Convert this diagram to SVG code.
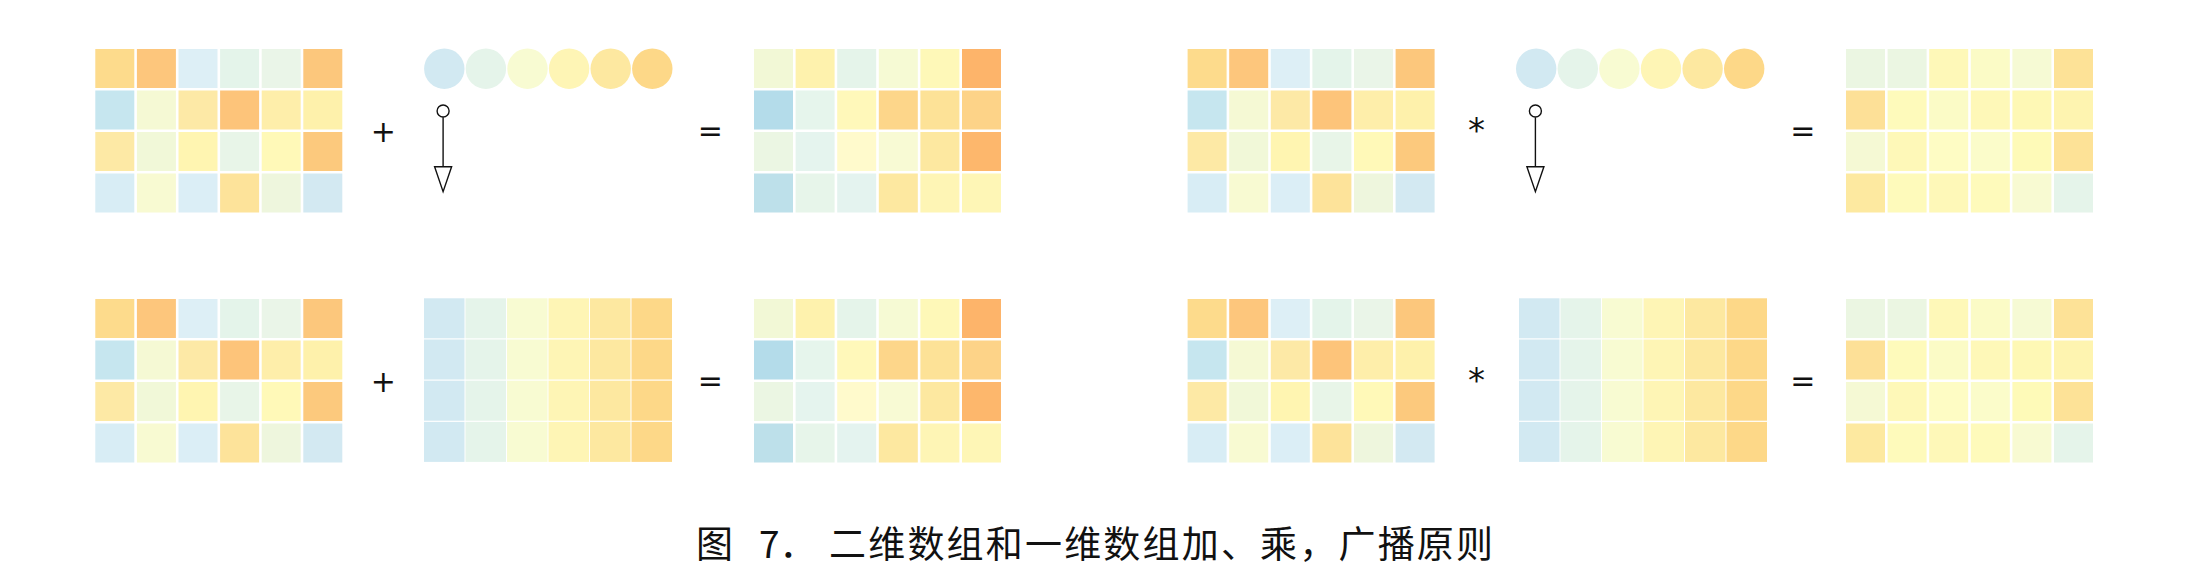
<svg xmlns="http://www.w3.org/2000/svg" xmlns:xlink="http://www.w3.org/1999/xlink" width="2186" height="583" viewBox="0 0 2186 583">
<style>
.op{font-family:"DejaVu Sans",sans-serif;font-size:30px;fill:#111;text-anchor:middle;dominant-baseline:central}
.cap{font-family:"Noto Sans CJK SC","Noto Sans CJK JP",sans-serif;font-size:37px;fill:#111}
.c rect{width:39px;height:39px}
.b rect{width:40.5px;height:40px}
.link{stroke:#111;stroke-width:1.4;fill:none}
</style>
<defs>
<marker id="tail" markerUnits="userSpaceOnUse" viewBox="-14 -8 16 16" refX="0" refY="0" markerWidth="16" markerHeight="16" orient="auto">
<circle cx="-6.3" cy="0" r="6" fill="#fff" stroke="#111" stroke-width="1.4"/>
</marker>
<marker id="head" markerUnits="userSpaceOnUse" viewBox="-1 -10 28 20" refX="0" refY="0" markerWidth="28" markerHeight="20" orient="auto">
<path d="M0,-8.5 L25,0 L0,8.5 Z" fill="#fff" stroke="#111" stroke-width="1.4"/>
</marker>
<g id="matA" class="c">
<rect x="0" y="0" fill="#fddb8c"/><rect x="41.6" y="0" fill="#fdc67c"/><rect x="83.2" y="0" fill="#ddeff6"/><rect x="124.8" y="0" fill="#e4f4ea"/><rect x="166.4" y="0" fill="#eaf5e8"/><rect x="208" y="0" fill="#fcc77c"/>
<rect x="0" y="41.5" fill="#c6e6ef"/><rect x="41.6" y="41.5" fill="#f5f9d4"/><rect x="83.2" y="41.5" fill="#fde9a6"/><rect x="124.8" y="41.5" fill="#fdc47a"/><rect x="166.4" y="41.5" fill="#feeeaa"/><rect x="208" y="41.5" fill="#fef1ab"/>
<rect x="0" y="83" fill="#fde9a5"/><rect x="41.6" y="83" fill="#f1f8d8"/><rect x="83.2" y="83" fill="#fff5b1"/><rect x="124.8" y="83" fill="#e8f5e8"/><rect x="166.4" y="83" fill="#fff9b8"/><rect x="208" y="83" fill="#fcc97d"/>
<rect x="0" y="124.5" fill="#d8edf5"/><rect x="41.6" y="124.5" fill="#f8fad2"/><rect x="83.2" y="124.5" fill="#dbeef6"/><rect x="124.8" y="124.5" fill="#fde39a"/><rect x="166.4" y="124.5" fill="#eef6dd"/><rect x="208" y="124.5" fill="#d3e9f2"/>
</g>
<g id="matSum" class="c">
<rect x="0" y="0" fill="#f2f8d6"/><rect x="41.6" y="0" fill="#fef2ad"/><rect x="83.2" y="0" fill="#e5f4ea"/><rect x="124.8" y="0" fill="#f6fad4"/><rect x="166.4" y="0" fill="#fef8b8"/><rect x="208" y="0" fill="#fdb46a"/>
<rect x="0" y="41.5" fill="#b4dcea"/><rect x="41.6" y="41.5" fill="#e6f5ec"/><rect x="83.2" y="41.5" fill="#fff8ba"/><rect x="124.8" y="41.5" fill="#fdd68a"/><rect x="166.4" y="41.5" fill="#fde297"/><rect x="208" y="41.5" fill="#fdd388"/>
<rect x="0" y="83" fill="#ebf6e3"/><rect x="41.6" y="83" fill="#e5f4ee"/><rect x="83.2" y="83" fill="#fffacc"/><rect x="124.8" y="83" fill="#f8fad4"/><rect x="166.4" y="83" fill="#fde8a0"/><rect x="208" y="83" fill="#fdb76c"/>
<rect x="0" y="124.5" fill="#bde0ea"/><rect x="41.6" y="124.5" fill="#e7f5ea"/><rect x="83.2" y="124.5" fill="#e4f3ef"/><rect x="124.8" y="124.5" fill="#fde8a0"/><rect x="166.4" y="124.5" fill="#fef5b5"/><rect x="208" y="124.5" fill="#fef6b6"/>
</g>
<g id="matProd" class="c">
<rect x="0" y="0" fill="#ebf6e2"/><rect x="41.6" y="0" fill="#ebf6e2"/><rect x="83.2" y="0" fill="#fef8b8"/><rect x="124.8" y="0" fill="#fbfbc6"/><rect x="166.4" y="0" fill="#f6fad4"/><rect x="208" y="0" fill="#fde297"/>
<rect x="0" y="41.5" fill="#fde097"/><rect x="41.6" y="41.5" fill="#fefabb"/><rect x="83.2" y="41.5" fill="#fbfbc6"/><rect x="124.8" y="41.5" fill="#fef8b8"/><rect x="166.4" y="41.5" fill="#fef8b5"/><rect x="208" y="41.5" fill="#fef4b0"/>
<rect x="0" y="83" fill="#f5f9d4"/><rect x="41.6" y="83" fill="#fef8b8"/><rect x="83.2" y="83" fill="#fefcc4"/><rect x="124.8" y="83" fill="#fbfcca"/><rect x="166.4" y="83" fill="#fefab8"/><rect x="208" y="83" fill="#fde297"/>
<rect x="0" y="124.5" fill="#fde9a0"/><rect x="41.6" y="124.5" fill="#fefabb"/><rect x="83.2" y="124.5" fill="#fef8b8"/><rect x="124.8" y="124.5" fill="#fefabb"/><rect x="166.4" y="124.5" fill="#f8fad2"/><rect x="208" y="124.5" fill="#e5f4ea"/>
</g>
<g id="matB" class="b">
<rect x="0" y="0" fill="#d2e9f2"/><rect x="41.5" y="0" fill="#e5f4ea"/><rect x="83" y="0" fill="#f8fbd2"/><rect x="124.5" y="0" fill="#fef5b5"/><rect x="166" y="0" fill="#fde8a0"/><rect x="207.5" y="0" fill="#fdd888"/>
<rect x="0" y="41.2" fill="#d2e9f2"/><rect x="41.5" y="41.2" fill="#e5f4ea"/><rect x="83" y="41.2" fill="#f8fbd2"/><rect x="124.5" y="41.2" fill="#fef5b5"/><rect x="166" y="41.2" fill="#fde8a0"/><rect x="207.5" y="41.2" fill="#fdd888"/>
<rect x="0" y="82.4" fill="#d2e9f2"/><rect x="41.5" y="82.4" fill="#e5f4ea"/><rect x="83" y="82.4" fill="#f8fbd2"/><rect x="124.5" y="82.4" fill="#fef5b5"/><rect x="166" y="82.4" fill="#fde8a0"/><rect x="207.5" y="82.4" fill="#fdd888"/>
<rect x="0" y="123.6" fill="#d2e9f2"/><rect x="41.5" y="123.6" fill="#e5f4ea"/><rect x="83" y="123.6" fill="#f8fbd2"/><rect x="124.5" y="123.6" fill="#fef5b5"/><rect x="166" y="123.6" fill="#fde8a0"/><rect x="207.5" y="123.6" fill="#fdd888"/>
</g>
<g id="vec">
<circle cx="0" cy="0" r="20.2" fill="#d2e9f2"/><circle cx="41.6" cy="0" r="20.2" fill="#e5f4ea"/><circle cx="83.2" cy="0" r="20.2" fill="#f8fbd2"/><circle cx="124.8" cy="0" r="20.2" fill="#fef5b5"/><circle cx="166.4" cy="0" r="20.2" fill="#fde8a0"/><circle cx="208" cy="0" r="20.2" fill="#fdd888"/>
</g>
</defs>
<rect width="2186" height="583" fill="#fff"/>
<g id="tl-matrix" transform="translate(95.3,49)"><use xlink:href="#matA"/></g>
<g id="tl-op"><text class="op" x="383.3" y="131.7">+</text></g>
<g id="tl-vector" transform="translate(444.3,68.7)"><use xlink:href="#vec"/></g>
<g id="tl-eq"><text class="op" x="710.3" y="130.7">=</text></g>
<g id="tl-result" transform="translate(754,49)"><use xlink:href="#matSum"/></g>
<g id="bl-matrix" transform="translate(95.3,299)"><use xlink:href="#matA"/></g>
<g id="bl-op"><text class="op" x="383.3" y="381.7">+</text></g>
<g id="bl-broadcast" transform="translate(424,298.3)"><use xlink:href="#matB"/></g>
<g id="bl-eq"><text class="op" x="710.3" y="380.7">=</text></g>
<g id="bl-result" transform="translate(754,299)"><use xlink:href="#matSum"/></g>
<g id="tr-matrix" transform="translate(1187.6,49)"><use xlink:href="#matA"/></g>
<g id="tr-op"><text class="op" x="1476.5" y="130" style="font-size:34px">*</text></g>
<g id="tr-vector" transform="translate(1536.2,68.7)"><use xlink:href="#vec"/></g>
<g id="tr-eq"><text class="op" x="1802.7" y="130.7">=</text></g>
<g id="tr-result" transform="translate(1846,49)"><use xlink:href="#matProd"/></g>
<g id="br-matrix" transform="translate(1187.6,299)"><use xlink:href="#matA"/></g>
<g id="br-op"><text class="op" x="1476.5" y="380" style="font-size:34px">*</text></g>
<g id="br-broadcast" transform="translate(1519,298.3)"><use xlink:href="#matB"/></g>
<g id="br-eq"><text class="op" x="1802.7" y="380.7">=</text></g>
<g id="br-result" transform="translate(1846,299)"><use xlink:href="#matProd"/></g>
<g id="connectors">
<line class="link" x1="443.1" y1="117.3" x2="443.1" y2="166.7" marker-start="url(#tail)" marker-end="url(#head)"/>
<line class="link" x1="1535.4" y1="117.3" x2="1535.4" y2="166.7" marker-start="url(#tail)" marker-end="url(#head)"/>
</g>
<g id="caption">
<text class="cap" y="558"><tspan x="696">图</tspan><tspan x="759">7．</tspan><tspan x="829" textLength="664" lengthAdjust="spacing">二维数组和一维数组加、乘，广播原则</tspan></text>
</g>
</svg>
